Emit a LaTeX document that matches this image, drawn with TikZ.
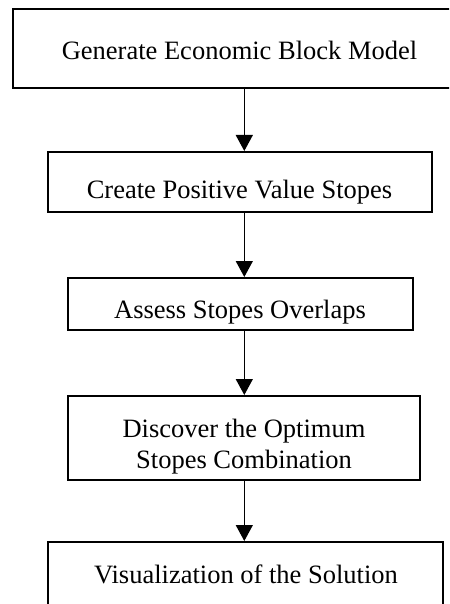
\documentclass[tikz,border=0pt]{standalone}
\usepackage{fontspec}
\setmainfont{Liberation Serif}
\usetikzlibrary{arrows.meta}
\tikzset{
  box/.style={draw=black, line width=2pt, fill=white, inner sep=0pt},
  lbl/.style={inner sep=0pt, font=\fontsize{26.5}{31}\selectfont, anchor=base},
  arr/.style={draw=black, line width=1.3pt, -{Triangle[width=17pt,length=16pt]}}
}
\begin{document}
\begin{tikzpicture}[x=1pt,y=-1pt]
\useasboundingbox (0,0) rectangle (449,604);
\clip (0,0) rectangle (449,604);
\fill[white] (0,0) rectangle (449,604);
% boxes
\node[box, minimum width=447pt, minimum height=79pt] (b1) at (236.5,48.5) {};
\node[box, minimum width=384pt, minimum height=60pt] (b2) at (240,182) {};
\node[box, minimum width=345pt, minimum height=52pt] (b3) at (240.5,304) {};
\node[box, minimum width=352pt, minimum height=84pt] (b4) at (244,438) {};
\node[box, minimum width=395pt, minimum height=64pt] (b5) at (245.5,574) {};
% labels
\node[lbl] (t1) at (239.5,60) {Generate Economic Block Model};
\node[lbl] (t2) at (239.5,198.3) {Create Positive Value Stopes};
\node[lbl] (t3) at (240,318) {Assess Stopes Overlaps};
\node[lbl] (t4a) at (244,437) {Discover the Optimum};
\node[lbl] (t4b) at (244,468) {Stopes Combination};
\node[lbl] (t5) at (246,583) {Visualization of the Solution};
% connectors
\coordinate (ax) at (244.3,0);
\draw[arr] (b1.south -| ax) -- (b2.north -| ax);
\draw[arr] (b2.south -| ax) -- (b3.north -| ax);
\draw[arr] (b3.south -| ax) -- (b4.north -| ax);
\draw[arr] (b4.south -| ax) -- (b5.north -| ax);
\end{tikzpicture}
\end{document}
